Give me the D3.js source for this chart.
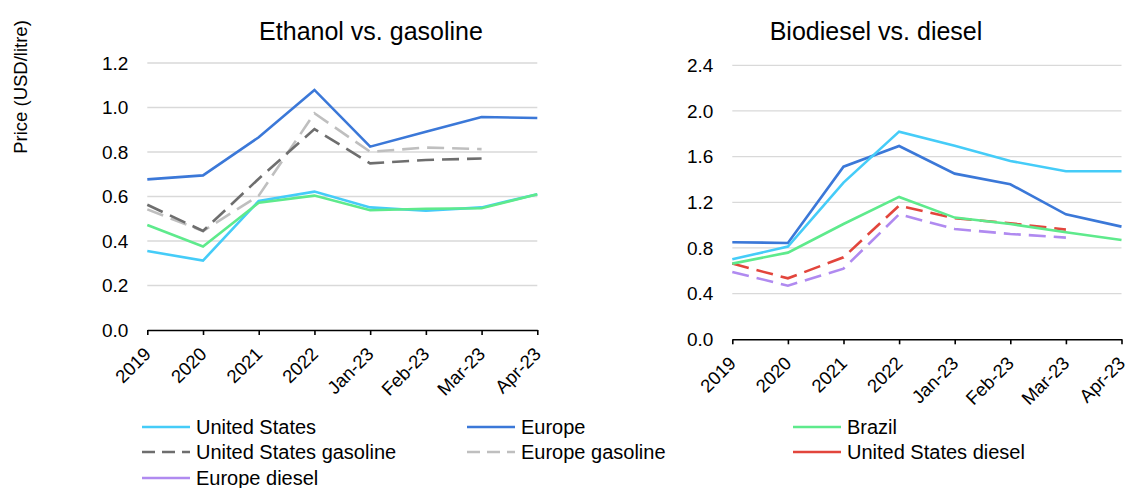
<!DOCTYPE html>
<html>
<head>
<meta charset="utf-8">
<script src="https://cdn.jsdelivr.net/npm/d3@7"></script>
<style>
  html, body { margin: 0; padding: 0; background: #fff; }
  svg { display: block; font-family: "Liberation Sans", Arial, sans-serif; }
</style>
</head>
<body>
<svg id="chart" width="1126" height="488"></svg>
<script>
// Period labels shared by both panels
const periods = ["2019", "2020", "2021", "2022", "Jan-23", "Feb-23", "Mar-23", "Apr-23"];

// Ethanol vs. gasoline (USD/litre)
const ethanolUS      = [0.355, 0.312, 0.580, 0.622, 0.551, 0.536, 0.551, 0.610];
const ethanolEurope  = [0.677, 0.695, 0.866, 1.079, 0.824, 0.891, 0.957, 0.953];
const ethanolBrazil  = [0.472, 0.375, 0.572, 0.604, 0.538, 0.545, 0.547, 0.610];
const gasolineUS     = [0.563, 0.445, 0.680, 0.903, 0.749, 0.764, 0.771, null];
const gasolineEurope = [0.542, 0.445, 0.604, 0.974, 0.801, 0.820, 0.813, null];

// Biodiesel vs. diesel (USD/litre)
const biodieselUS     = [0.701, 0.812, 1.372, 1.819, 1.696, 1.562, 1.472, 1.472];
const biodieselEurope = [0.850, 0.844, 1.512, 1.693, 1.451, 1.358, 1.095, 0.987];
const biodieselBrazil = [0.663, 0.759, 1.010, 1.247, 1.066, 1.010, 0.937, 0.870];
const dieselUS        = [0.663, 0.534, 0.718, 1.171, 1.060, 1.016, 0.961, null];
const dieselEurope    = [0.590, 0.470, 0.619, 1.095, 0.966, 0.923, 0.891, null];

const leftTicks  = [0, 0.2, 0.4, 0.6, 0.8, 1.0, 1.2];
const rightTicks = [0, 0.4, 0.8, 1.2, 1.6, 2.0, 2.4];

const colors = {
  us: "#45CCF8",
  europe: "#3B78D8",
  brazil: "#5EEA8C",
  usGas: "#6E6E6E",
  euGas: "#BFBFBF",
  usDiesel: "#E2453C",
  euDiesel: "#B08AF0"
};
const DASH = "17,8";
const FONT = "Liberation Sans, Arial, sans-serif";

const svg = d3.select("#chart");

function panel(cfg) {
  const x = d3.scalePoint().domain(periods).range(cfg.xRange);
  const y = d3.scaleLinear().domain(cfg.yDomain).range(cfg.yRange);
  const g = svg.append("g");

  // horizontal gridlines
  g.selectAll("line.grid")
    .data(cfg.ticks.filter(t => t > 0))
    .join("line")
    .attr("class", "grid")
    .attr("x1", cfg.xRange[0]).attr("x2", cfg.xRange[1])
    .attr("y1", d => y(d)).attr("y2", d => y(d))
    .attr("stroke", "#D9D9D9").attr("stroke-width", 1.3);

  // y tick labels
  const yAxis = d3.axisLeft(y).tickValues(cfg.ticks).tickFormat(d3.format(".1f")).tickSize(0).tickPadding(19);
  const ya = g.append("g").attr("transform", `translate(${cfg.xRange[0]},0)`).call(yAxis);
  ya.select(".domain").remove();
  ya.selectAll("text").attr("font-size", 19).attr("fill", "#000").attr("font-family", FONT);

  // x axis
  const xAxis = d3.axisBottom(x).tickSize(5).tickSizeOuter(0);
  const xa = g.append("g").attr("transform", `translate(0,${cfg.yRange[0]})`).call(xAxis);
  xa.select(".domain").attr("stroke", "#000").attr("stroke-width", 1.6);
  xa.selectAll(".tick line").attr("stroke", "#000").attr("stroke-width", 1.6);
  xa.selectAll("text")
    .attr("font-size", 18.5).attr("fill", "#000").attr("font-family", FONT)
    .attr("text-anchor", "end")
    .attr("dy", "0.35em")
    .attr("transform", "translate(-6,15) rotate(-45)");

  // series lines
  const line = d3.line()
    .defined(d => d != null)
    .x((d, i) => x(periods[i]))
    .y(d => y(d));
  cfg.series.forEach(s => {
    g.append("path")
      .datum(s.values)
      .attr("fill", "none")
      .attr("stroke", s.color)
      .attr("stroke-width", 2.6)
      .attr("stroke-dasharray", s.dashed ? DASH : null)
      .attr("stroke-linejoin", "miter")
      .attr("d", line);
  });

  // title
  svg.append("text")
    .attr("x", cfg.titleX).attr("y", 40)
    .attr("text-anchor", "middle")
    .attr("font-size", 25).attr("fill", "#000")
    .text(cfg.title);
}

panel({
  title: "Ethanol vs. gasoline",
  titleX: 371,
  xRange: [147.3, 537.3],
  yDomain: [0, 1.2],
  yRange: [330, 63],
  ticks: leftTicks,
  series: [
    { values: gasolineEurope, color: colors.euGas, dashed: true },
    { values: gasolineUS, color: colors.usGas, dashed: true },
    { values: ethanolEurope, color: colors.europe },
    { values: ethanolUS, color: colors.us },
    { values: ethanolBrazil, color: colors.brazil }
  ]
});

panel({
  title: "Biodiesel vs. diesel",
  titleX: 876,
  xRange: [732.3, 1121.5],
  yDomain: [0, 2.4],
  yRange: [339.3, 65.3],
  ticks: rightTicks,
  series: [
    { values: dieselEurope, color: colors.euDiesel, dashed: true },
    { values: dieselUS, color: colors.usDiesel, dashed: true },
    { values: biodieselBrazil, color: colors.brazil },
    { values: biodieselEurope, color: colors.europe },
    { values: biodieselUS, color: colors.us }
  ]
});

// y-axis title
svg.append("text")
  .attr("transform", "translate(27,87) rotate(-90)")
  .attr("text-anchor", "middle")
  .attr("font-size", 18.5).attr("fill", "#000")
  .text("Price (USD/litre)");

// legend
const legendItems = [
  { label: "United States", color: colors.us },
  { label: "Europe", color: colors.europe },
  { label: "Brazil", color: colors.brazil },
  { label: "United States gasoline", color: colors.usGas, dashed: true },
  { label: "Europe gasoline", color: colors.euGas, dashed: true },
  { label: "United States diesel", color: colors.usDiesel },
  { label: "Europe diesel", color: colors.euDiesel }
];
const colX = [142, 467, 793];
const rowY = [427, 452, 478];
const lg = svg.append("g");
legendItems.forEach((d, i) => {
  const cx = colX[i % 3], cy = rowY[Math.floor(i / 3)];
  lg.append("line")
    .attr("x1", cx).attr("x2", cx + 48)
    .attr("y1", cy).attr("y2", cy)
    .attr("stroke", d.color).attr("stroke-width", 2.6)
    .attr("stroke-dasharray", d.dashed ? "13,7" : null);
  lg.append("text")
    .attr("x", cx + 54).attr("y", cy)
    .attr("dy", "0.35em")
    .attr("font-size", 20).attr("fill", "#000")
    .text(d.label);
});
</script>
</body>
</html>
